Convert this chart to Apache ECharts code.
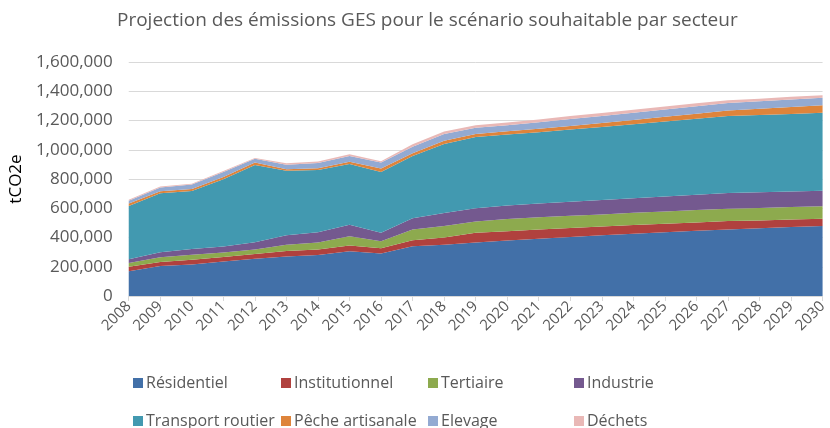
<!DOCTYPE html>
<html>
<head>
<meta charset="utf-8">
<script src="https://cdn.jsdelivr.net/npm/echarts@6/dist/echarts.min.js"></script>
<style>
  html, body { margin: 0; padding: 0; background: #fff; }
  #chart { width: 830px; height: 428px; }
</style>
</head>
<body>
<div id="chart"></div>
<script>
// années
var years = ['2008','2009','2010','2011','2012','2013','2014','2015','2016','2017','2018','2019',
  '2020','2021','2022','2023','2024','2025','2026','2027','2028','2029','2030'];

// valeurs par secteur (tCO2e)
var residentiel    = [170000,205000,215000,236000,254000,270000,280000,306000,290000,340000,350000,365000,
  380000,392000,403000,415000,426000,436000,446000,455000,463000,471000,478000];
var institutionnel = [30000,27000,33000,30000,33000,38000,38000,39000,36000,42000,50000,67000,
  63000,63000,62000,60000,60000,58000,57000,57000,54000,52000,50000];
var tertiaire      = [25000,33000,34000,32000,31000,42000,48000,63000,48000,73000,78000,78000,
  83000,83000,83000,83000,83000,84000,85000,84000,85000,85000,86000];
var industrie      = [27000,35000,40000,40000,50000,65000,70000,80000,58000,77000,90000,90000,
  92000,94000,96000,98000,99000,102000,105000,109000,107000,106000,105000];
var transport      = [363000,403000,396000,460000,527000,441000,426000,414000,416000,426000,472000,488000,
  486000,488000,494000,500000,507000,513000,519000,525000,528000,531000,534000];
var peche          = [17000,13000,14000,15000,17000,10000,12000,16000,24000,18000,22000,20000,
  22000,23000,25000,27000,29000,32000,35000,38000,43000,47000,52000];
var elevage        = [20000,26000,31000,35000,26000,32000,36000,40000,40000,44000,46000,42000,
  42000,45000,47000,48000,49000,50000,51000,52000,52000,52000,50000];
var dechets        = [6000,6000,5000,7000,6000,10000,10000,12000,10000,18000,17000,18000,
  19000,19000,20000,20000,20000,20000,20000,18000,17000,18000,18000];

var yTicks = [0, 200000, 400000, 600000, 800000, 1000000, 1200000, 1400000, 1600000];

var noms = ['Résidentiel','Institutionnel','Tertiaire','Industrie',
  'Transport routier','Pêche artisanale','Elevage','Déchets'];
var couleurs = ['#4270A8','#B0413E','#8DAA4E','#74598F','#4299B0','#DE843B','#93AAD2','#E9B8B6'];
var donnees = [residentiel, institutionnel, tertiaire, industrie, transport, peche, elevage, dechets];

var chart = echarts.init(document.getElementById('chart'));

var series = noms.map(function (nom, i) {
  return {
    name: nom,
    type: 'line',
    stack: 'total',
    showSymbol: false,
    lineStyle: { width: 0 },
    areaStyle: { color: couleurs[i], opacity: 1 },
    itemStyle: { color: couleurs[i] },
    data: donnees[i]
  };
});

// une légende par entrée, 4 par ligne
var colX = [128, 276, 423, 569];
var rowY = [370, 408];
var legendes = noms.map(function (nom, i) {
  return {
    data: [nom],
    left: colX[i % 4],
    top: rowY[Math.floor(i / 4)],
    itemWidth: 10,
    itemHeight: 10,
    itemGap: 4,
    icon: 'rect',
    textStyle: { color: '#595959', fontSize: 16, fontFamily: 'Open Sans', padding: [0, 0, 0, -2] }
  };
});

var option = {
  animation: false,
  textStyle: { fontFamily: 'Open Sans' },
  title: {
    text: 'Projection des émissions GES pour le scénario souhaitable par secteur',
    left: 112,
    top: 6,
    textStyle: { color: '#595959', fontSize: 19, fontWeight: 'normal', fontFamily: 'Open Sans' }
  },
  legend: legendes,
  grid: { left: 125, right: 3, top: 62, bottom: 132 },
  xAxis: {
    type: 'category',
    boundaryGap: false,
    data: years,
    axisLine: { lineStyle: { color: '#d9d9d9' } },
    axisTick: { show: true, length: 5, lineStyle: { color: '#d9d9d9' } },
    axisLabel: { rotate: 45, color: '#595959', fontSize: 15, margin: 8, interval: 0 }
  },
  yAxis: {
    type: 'value',
    min: 0,
    max: yTicks[yTicks.length - 1],
    interval: yTicks[1] - yTicks[0],
    name: 'tCO2e',
    nameLocation: 'middle',
    nameRotate: 90,
    nameGap: 100,
    nameTextStyle: { color: '#000', fontSize: 17 },
    axisLine: { show: false },
    axisTick: { show: false },
    splitLine: { lineStyle: { color: '#d9d9d9', width: 1 } },
    axisLabel: {
      color: '#595959', fontSize: 17, margin: 16,
      formatter: function (v) { return v.toLocaleString('en-US'); }
    }
  },
  series: series
};

chart.setOption(option);
</script>
</body>
</html>
